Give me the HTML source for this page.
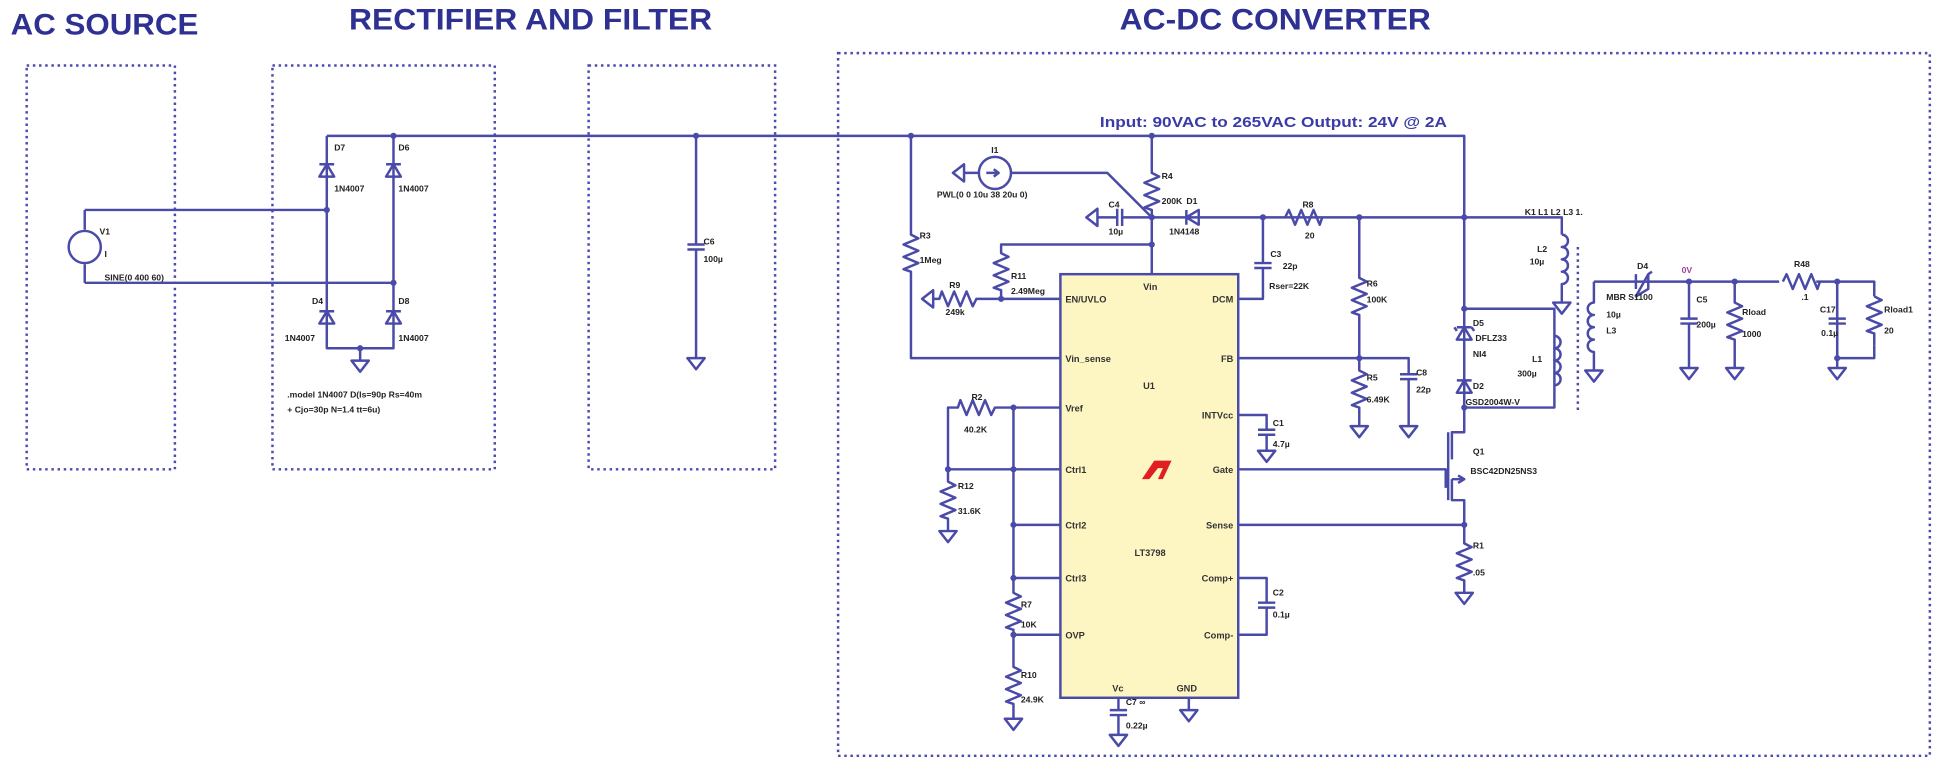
<!DOCTYPE html>
<html><head><meta charset="utf-8"><style>
html,body{margin:0;padding:0;background:#fff;}
svg{display:block}
text{font-family:"Liberation Sans",sans-serif;}
.l{font-size:7px;font-weight:bold;fill:#222}
.p{font-size:7.5px;font-weight:bold;fill:#333}
</style></head><body>
<svg width="1938" height="762" viewBox="0 0 1568 617" xmlns="http://www.w3.org/2000/svg">
<rect width="1568" height="617" fill="#fff"/>
<!-- titles -->
<g fill="#2e3192" font-weight="bold" font-family="Liberation Sans,sans-serif">
<text x="8" y="28" font-size="24" textLength="152" lengthAdjust="spacingAndGlyphs">AC SOURCE</text>
<text x="282" y="24" font-size="24" textLength="294" lengthAdjust="spacingAndGlyphs">RECTIFIER AND FILTER</text>
<text x="906" y="24" font-size="24" textLength="252" lengthAdjust="spacingAndGlyphs">AC-DC CONVERTER</text>
<text x="890" y="103" font-size="12" fill="#3a3aa8" textLength="281" lengthAdjust="spacingAndGlyphs">Input: 90VAC to 265VAC  Output: 24V @ 2A</text>
</g>
<!-- dashed boxes -->
<g fill="none" stroke="#4a4ab0" stroke-width="2" stroke-dasharray="2,3">
<rect x="21" y="53" width="120" height="327"/>
<rect x="220" y="53" width="180" height="327"/>
<rect x="476" y="53" width="151" height="327"/>
<rect x="678" y="43" width="884" height="569"/>
</g>
<!-- IC -->
<rect x="858" y="222" width="144" height="343" fill="#fdf6c3" stroke="#4a4aa8" stroke-width="2"/>
<g class="p">
<text x="862" y="245">EN/UVLO</text><text x="862" y="293">Vin_sense</text><text x="862" y="333">Vref</text>
<text x="862" y="383">Ctrl1</text><text x="862" y="428">Ctrl2</text><text x="862" y="471">Ctrl3</text><text x="862" y="517">OVP</text>
<text x="998" y="245" text-anchor="end">DCM</text><text x="998" y="293" text-anchor="end">FB</text>
<text x="998" y="339" text-anchor="end">INTVcc</text><text x="998" y="383" text-anchor="end">Gate</text>
<text x="998" y="428" text-anchor="end">Sense</text><text x="998" y="471" text-anchor="end">Comp+</text><text x="998" y="517" text-anchor="end">Comp-</text>
<text x="925" y="235">Vin</text><text x="925" y="315">U1</text><text x="918" y="450">LT3798</text>
<text x="900" y="560">Vc</text><text x="952" y="560">GND</text>
</g>
<path d="M934,373 h14 l-7,15 h-4 l4,-9 h-4 l-7,9 h-6 z" fill="#e02020"/>
<!-- wires -->
<g fill="none" stroke="#4a4aa8" stroke-width="2" stroke-linejoin="round">
<path d="M264,110 H1185 V250"/>
<path d="M68,170 H264 M68,229 H318 M68,170 V186 M68,214 V229"/>
<circle cx="68" cy="200" r="13"/>
<path d="M264,110 V282 H318 V110 M291,282 V292"/>
<path d="M258,133 h12 M258,143 h12 l-6,-10 z M312,133 h12 M312,143 h12 l-6,-10 z"/>
<path d="M258,252 h12 M258,262 h12 l-6,-10 z M312,252 h12 M312,262 h12 l-6,-10 z"/>
<path d="M284,292 h14 l-7,9 z"/>
<path d="M563,110 V198 M563,202 V290 M556,198 h14 M556,202 h14 M556,290 h14 l-7,9 z"/>
<path d="M737,110 V190 l6,3 l-12,5 l12,5 l-12,5 l12,5 l-12,5 l6,2 V290 H858"/>
<circle cx="805" cy="140" r="13"/>
<path d="M792,140 H780 M780,133 v14 l-9,-7 z M818,140 H896 L932,176 M798,140 h10 M804,137 l4,3 l-4,3"/>
<path d="M932,110 V140 l6,3 l-12,5 l12,5 l-12,5 l12,5 l-12,5 l6,2 V222"/>
<path d="M932,176 H908 M904,176 H888 M908,169 v14 M904,169 v14 M888,169 v14 l-9,-7 z"/>
<path d="M932,176 H1150 M960,170 v12 M970,170 v12 l-10,-6 z"/>
<path d="M1040,176 l3,-6 l5,12 l5,-12 l5,12 l5,-12 l5,12 l2,-6"/>
<path d="M1150,176 H1264 V190"/>
<path d="M1022,176 V213 M1022,217 V242 H1002 M1015,213 h14 M1015,217 h14"/>
<path d="M1100,176 V225 l6,3 l-12,5 l12,5 l-12,5 l12,5 l-12,5 l6,2 V300 l6,3 l-12,5 l12,5 l-12,5 l12,5 l-12,5 l6,2 V345 M1093,345 h14 l-7,9 z"/>
<path d="M1002,290 H1140 V303 M1140,307 V345 M1133,303 h14 M1133,307 h14 M1133,345 h14 l-7,9 z"/>
<path d="M932,198 H810 V205 l6,3 l-12,5 l12,5 l-12,5 l12,5 l-12,5 l6,2 V242 H858"/>
<path d="M810,242 H790 l-3,6 l-5,-12 l-5,12 l-5,-12 l-5,12 l-5,-12 l-2,6 H755 M755,235 v14 l-9,-7 z"/>
<path d="M1185,250 H1258 V330 H1185 M1185,250 V330"/>
<path d="M1179,265 h12 M1179,275 h12 l-6,-10 z M1179,268 l-2,-3 M1191,265 l2,3"/>
<path d="M1179,308 h12 M1179,318 h12 l-6,-10 z"/>
<path d="M1185,330 V350 H1175 V372 M1175,388 V405 H1185 V425 M1172,350 V405 M1002,380 H1170 V395 M1175,388 H1185 M1180,385 l5,3 l-5,3"/>
<path d="M1002,425 H1185 V440 l6,3 l-12,5 l12,5 l-12,5 l12,5 l-12,5 l6,2 V480 M1178,480 h14 l-7,9 z"/>
<path d="M1264,190 a5,5 0 0 1 0,10 a5,5 0 0 1 0,10 a5,5 0 0 1 0,10 a5,5 0 0 1 0,10 V245 M1257,245 h14 l-7,9 z"/>
<path d="M1258,272 a5,5 0 0 1 0,10 a5,5 0 0 1 0,10 a5,5 0 0 1 0,10 a5,5 0 0 1 0,10"/>
<path d="M1290,228 V245 a5,5 0 0 0 0,10 a5,5 0 0 0 0,10 a5,5 0 0 0 0,10 a5,5 0 0 0 0,10 V300 M1283,300 h14 l-7,9 z"/>
<path d="M1290,228 H1440 M1470,228 H1517 V240 M1517,280 V290 H1487 V228"/>
<path d="M1324,222 v12 M1334,222 v12 l-10,6 z M1334,222 l3,-2"/>
<path d="M1443,228 l3,-6 l5,12 l5,-12 l5,12 l5,-12 l5,12 l2,-6"/>
<path d="M1517,240 l6,3 l-12,5 l12,5 l-12,5 l12,5 l-12,5 l6,2 V280"/>
<path d="M1367,228 V258 M1367,262 V298 M1360,258 h14 M1360,262 h14 M1360,298 h14 l-7,9 z"/>
<path d="M1404,228 V245 l6,3 l-12,5 l12,5 l-12,5 l12,5 l-12,5 l6,2 V298 M1397,298 h14 l-7,9 z"/>
<path d="M1487,228 V258 M1487,262 V298 M1480,258 h14 M1480,262 h14 M1480,298 h14 l-7,9 z"/>
<path d="M858,330 H820 M820,330 H805 l-3,6 l-5,-12 l-5,12 l-5,-12 l-5,12 l-5,-12 l-2,6 H767 V390 l6,3 l-12,5 l12,5 l-12,5 l12,5 l-12,5 l6,2 V430 M760,430 h14 l-7,9 z"/>
<path d="M767,380 H858 M820,330 V480 l6,3 l-12,5 l12,5 l-12,5 l12,5 l-12,5 l6,2 V540 l6,3 l-12,5 l12,5 l-12,5 l12,5 l-12,5 l6,2 V582 M813,582 h14 l-7,9 z"/>
<path d="M820,425 H858 M820,468 H858 M820,514 H858"/>
<path d="M905,565 V575 M905,579 V595 M898,575 h14 M898,579 h14 M898,595 h14 l-7,9 z M962,565 V575 M955,575 h14 l-7,9 z"/>
<path d="M1002,336 H1025 V348 M1025,352 V365 M1018,348 h14 M1018,352 h14 M1018,365 h14 l-7,9 z"/>
<path d="M1002,468 H1025 V488 M1025,492 V514 H1002 M1018,488 h14 M1018,492 h14"/>
</g>
<path d="M1277,200 V335" stroke="#4a4aa8" stroke-width="2" stroke-dasharray="2,3"/>
<g fill="#4a4aa8">
<circle cx="264" cy="170" r="2.5"/><circle cx="318" cy="110" r="2.5"/><circle cx="318" cy="229" r="2.5"/><circle cx="291" cy="282" r="2.5"/>
<circle cx="563" cy="110" r="2.5"/><circle cx="737" cy="110" r="2.5"/><circle cx="932" cy="110" r="2.5"/>
<circle cx="932" cy="176" r="2.5"/><circle cx="932" cy="198" r="2.5"/><circle cx="810" cy="242" r="2.5"/>
<circle cx="1022" cy="176" r="2.5"/><circle cx="1100" cy="176" r="2.5"/><circle cx="1100" cy="290" r="2.5"/>
<circle cx="1185" cy="176" r="2.5"/><circle cx="1185" cy="250" r="2.5"/><circle cx="1185" cy="330" r="2.5"/><circle cx="1185" cy="425" r="2.5"/>
<circle cx="1367" cy="228" r="2.5"/><circle cx="1404" cy="228" r="2.5"/><circle cx="1487" cy="228" r="2.5"/><circle cx="1487" cy="290" r="2.5"/>
<circle cx="820" cy="330" r="2.5"/><circle cx="767" cy="380" r="2.5"/><circle cx="820" cy="380" r="2.5"/><circle cx="820" cy="425" r="2.5"/><circle cx="820" cy="468" r="2.5"/><circle cx="820" cy="514" r="2.5"/>
</g>
<g class="l">
<text x="80" y="190">V1</text><text x="84" y="227">SINE(0 400 60)</text><text x="84" y="208">I</text>
<text x="270" y="122">D7</text><text x="322" y="122">D6</text><text x="270" y="155">1N4007</text><text x="322" y="155">1N4007</text>
<text x="252" y="246">D4</text><text x="322" y="246">D8</text><text x="230" y="276">1N4007</text><text x="322" y="276">1N4007</text>
<text x="232" y="322">.model 1N4007 D(Is=90p Rs=40m</text><text x="232" y="334">+ Cjo=30p N=1.4 tt=6u)</text>
<text x="569" y="198">C6</text><text x="569" y="212">100µ</text>
<text x="744" y="193">R3</text><text x="744" y="213">1Meg</text>
<text x="802" y="124">I1</text><text x="758" y="160">PWL(0 0 10u 38 20u 0)</text>
<text x="897" y="168">C4</text><text x="897" y="190">10µ</text>
<text x="940" y="145">R4</text><text x="940" y="165">200K</text>
<text x="960" y="165">D1</text><text x="946" y="190">1N4148</text>
<text x="1054" y="168">R8</text><text x="1056" y="193">20</text>
<text x="1028" y="208">C3</text><text x="1038" y="218">22p</text><text x="1027" y="234">Rser=22K</text>
<text x="1106" y="232">R6</text><text x="1106" y="245">100K</text>
<text x="1106" y="308">R5</text><text x="1106" y="326">6.49K</text>
<text x="1146" y="304">C8</text><text x="1146" y="318">22p</text>
<text x="818" y="226">R11</text><text x="818" y="238">2.49Meg</text>
<text x="768" y="233">R9</text><text x="765" y="255">249k</text>
<text x="1192" y="264">D5</text><text x="1194" y="276">DFLZ33</text><text x="1192" y="289">NI4</text>
<text x="1192" y="315">D2</text><text x="1186" y="328">GSD2004W-V</text>
<text x="1234" y="174">K1 L1 L2 L3 1.</text>
<text x="1244" y="204">L2</text><text x="1238" y="214">10µ</text>
<text x="1240" y="293">L1</text><text x="1228" y="305">300µ</text>
<text x="1300" y="257">10µ</text><text x="1300" y="270">L3</text>
<text x="1325" y="218">D4</text><text x="1300" y="243">MBR S1100</text>
<text x="1361" y="221" fill="#a040a0">0V</text>
<text x="1373" y="245">C5</text><text x="1373" y="265">200µ</text>
<text x="1410" y="255">Rload</text><text x="1410" y="273">1000</text>
<text x="1452" y="216">R48</text><text x="1458" y="243">.1</text>
<text x="1473" y="253">C17</text><text x="1474" y="272">0.1µ</text>
<text x="1525" y="253">Rload1</text><text x="1525" y="270">20</text>
<text x="1192" y="368">Q1</text><text x="1190" y="384">BSC42DN25NS3</text>
<text x="1192" y="444">R1</text><text x="1192" y="466">.05</text>
<text x="786" y="324">R2</text><text x="780" y="350">40.2K</text>
<text x="775" y="396">R12</text><text x="775" y="416">31.6K</text>
<text x="826" y="492">R7</text><text x="826" y="508">10K</text>
<text x="826" y="549">R10</text><text x="826" y="569">24.9K</text>
<text x="911" y="571">C7 ∞</text><text x="911" y="590">0.22µ</text>
<text x="1030" y="345">C1</text><text x="1030" y="362">4.7µ</text>
<text x="1030" y="482">C2</text><text x="1030" y="500">0.1µ</text>
</g>
</svg>
</body></html>
